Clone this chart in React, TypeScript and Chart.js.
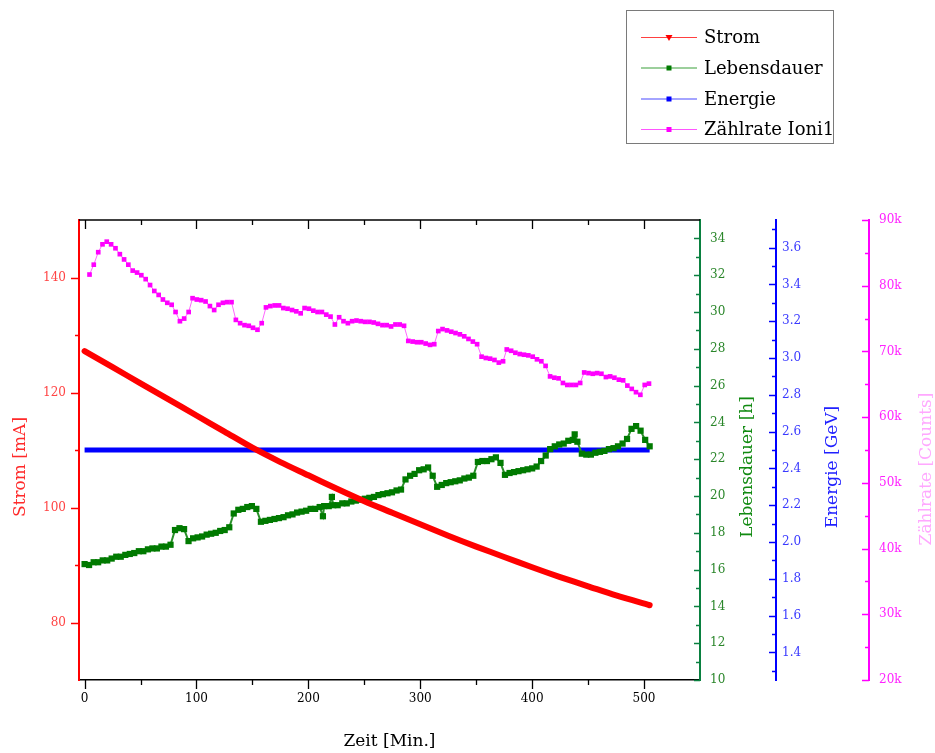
import React, { useEffect, useRef } from 'react';
import { Chart, registerables } from 'chart.js';

Chart.register(...registerables);

const FONT = "'DejaVu Serif', 'Liberation Serif', serif";

// ---- data ----
const stromTime = [0, 25, 50, 75, 100, 125, 150, 175, 200, 225, 250, 275, 300, 325, 350, 375, 400, 425, 450, 475, 505];
const stromValue = [127.2, 124.4, 121.6, 118.8, 116.0, 113.2, 110.4, 107.9, 105.6, 103.3, 101.1, 99.1, 97.1, 95.1, 93.2, 91.4, 89.6, 87.9, 86.3, 84.7, 83.0];

const lebTime = [
  0, 4, 8.1, 12.1, 16.2, 20.2, 24.2, 28.3, 32.3, 36.4, 40.4, 44.4, 48.5, 52.5, 56.6, 60.6, 64.6, 68.7, 72.7, 76.8,
  80.8, 84.8, 88.9, 92.9, 97.0, 101.0, 105.0, 109.1, 113.1, 117.2, 121.2, 125.2, 129.3, 133.3, 137.4, 141.4, 145.4, 149.5, 153.5, 157.6,
  161.6, 165.6, 169.7, 173.7, 177.8, 181.8, 185.8, 189.9, 193.9, 198.0, 202.0, 206.0, 210.1, 213.0, 214.1, 218.2, 221.0, 222.2, 226.2, 230.3,
  234.3, 238.4, 242.4, 246.4, 250.5, 254.5, 258.6, 262.6, 266.6, 270.7, 274.7, 278.8, 282.8, 286.8, 290.9, 294.9, 299.0, 303.0, 307.0, 311.1,
  315.1, 319.2, 323.2, 327.2, 331.3, 335.3, 339.4, 343.4, 347.4, 351.5, 355.5, 359.6, 363.6, 367.6, 371.7, 375.7, 379.8, 383.8, 387.8, 391.9,
  395.9, 400.0, 404.0, 408.0, 412.1, 416.1, 420.2, 424.2, 428.2, 432.3, 436.3, 438.0, 440.4, 444.4, 448.4, 452.5, 456.5, 460.6, 464.6, 468.6,
  472.7, 476.7, 480.8, 484.8, 488.8, 492.9, 496.9, 501.0, 505.0,
];
const lebValue = [
  16.3, 16.25, 16.4, 16.4, 16.5, 16.5, 16.6, 16.7, 16.7, 16.8, 16.85, 16.9, 17.0, 17.0, 17.1, 17.15, 17.15, 17.25, 17.25, 17.35,
  18.15, 18.25, 18.2, 17.55, 17.7, 17.75, 17.8, 17.9, 17.95, 18.0, 18.1, 18.15, 18.3, 19.05, 19.25, 19.3, 19.4, 19.45, 19.3, 18.6,
  18.65, 18.7, 18.75, 18.8, 18.85, 18.95, 19.0, 19.1, 19.15, 19.2, 19.3, 19.3, 19.4, 18.9, 19.45, 19.45, 19.95, 19.5, 19.5, 19.6,
  19.6, 19.7, 19.75, 19.8, 19.85, 19.9, 19.95, 20.05, 20.1, 20.15, 20.2, 20.3, 20.35, 20.9, 21.1, 21.2, 21.4, 21.45, 21.55, 21.1,
  20.5, 20.6, 20.7, 20.75, 20.8, 20.85, 20.95, 21.0, 21.1, 21.85, 21.9, 21.9, 22.0, 22.1, 21.8, 21.15, 21.25, 21.3, 21.35, 21.4,
  21.45, 21.5, 21.6, 21.9, 22.2, 22.55, 22.7, 22.8, 22.85, 23.0, 23.05, 23.35, 22.95, 22.3, 22.25, 22.25, 22.35, 22.4, 22.45, 22.55,
  22.6, 22.7, 22.85, 23.1, 23.65, 23.8, 23.55, 23.05, 22.7,
];

const energieTime = [0, 100, 200, 300, 400, 505];
const energieValue = [2.5, 2.5, 2.5, 2.5, 2.5, 2.5];

const zaehlTime = [
  4.4, 8.2, 12.2, 16.0, 19.8, 23.7, 27.6, 31.5, 35.3, 39.1, 43.0, 46.9, 50.7, 54.6, 58.5, 62.3, 66.2, 70.0, 73.9, 77.8,
  81.3, 85.2, 89.0, 93.0, 96.5, 100.3, 104.2, 108.1, 112.0, 115.8, 119.7, 123.6, 127.4, 131.3, 135.2, 139.0, 142.9, 146.7, 150.5, 154.5,
  158.3, 162.1, 166.0, 169.9, 173.8, 177.6, 181.4, 185.4, 189.2, 193.1, 196.6, 200.5, 204.4, 208.2, 212.1, 216.0, 219.8, 223.7, 227.5, 231.4,
  235.3, 239.1, 243.0, 246.8, 250.7, 254.6, 258.4, 262.2, 266.2, 270.0, 273.9, 277.8, 281.6, 285.5, 289.3, 293.2, 297.1, 300.9, 304.8, 308.7,
  312.5, 316.1, 319.9, 323.9, 327.7, 331.5, 335.4, 339.3, 343.1, 347.0, 350.8, 354.8, 358.6, 362.4, 366.3, 370.2, 374.0, 377.3, 381.2, 385.0,
  388.9, 392.7, 396.6, 400.5, 404.3, 408.2, 412.0, 416.0, 419.8, 423.6, 427.5, 431.4, 435.2, 439.1, 442.9, 446.5, 450.4, 454.2, 458.1, 461.9,
  465.9, 469.7, 473.5, 477.5, 481.3, 485.1, 489.0, 492.8, 496.7, 500.6, 504.4,
];
const zaehlValue = [
  81700, 83200, 85100, 86300, 86700, 86300, 85700, 84800, 84000, 83200, 82300, 82000, 81600, 81000, 80100, 79200, 78600, 77900, 77400, 77100,
  76000, 74600, 75000, 76000, 78100, 77900, 77800, 77600, 76900, 76300, 77100, 77400, 77500, 77500, 74800, 74300, 74000, 73900, 73600, 73300,
  74300, 76700, 76900, 77000, 77000, 76600, 76500, 76300, 76100, 75800, 76600, 76500, 76200, 76000, 76000, 75600, 75300, 74100, 75200, 74600,
  74300, 74600, 74700, 74600, 74500, 74500, 74400, 74200, 74000, 74000, 73800, 74100, 74100, 73900, 71600, 71500, 71400, 71400, 71200, 71000,
  71100, 73100, 73400, 73200, 73000, 72800, 72600, 72300, 71900, 71500, 71100, 69200, 69000, 68900, 68700, 68300, 68500, 70300, 70100, 69800,
  69600, 69500, 69400, 69200, 68800, 68500, 67800, 66200, 66000, 65900, 65200, 64900, 64900, 64900, 65200, 66800, 66700, 66600, 66700, 66600,
  66100, 66200, 66000, 65700, 65600, 64800, 64300, 63800, 63400, 64900, 65100,
];

const xTicks = [0, 100, 200, 300, 400, 500];
const xMinor = [50, 150, 250, 350, 450];
const stromTicks = [80, 100, 120, 140];
const stromMinor = [90, 110, 130];
const lebTicks = [10, 12, 14, 16, 18, 20, 22, 24, 26, 28, 30, 32, 34];
const lebMinor = [11, 13, 15, 17, 19, 21, 23, 25, 27, 29, 31, 33];
const energieTicks = [1.4, 1.6, 1.8, 2.0, 2.2, 2.4, 2.6, 2.8, 3.0, 3.2, 3.4, 3.6];
const energieMinor = [1.3, 1.5, 1.7, 1.9, 2.1, 2.3, 2.5, 2.7, 2.9, 3.1, 3.3, 3.5, 3.7];
const zaehlTicks = [20000, 30000, 40000, 50000, 60000, 70000, 80000, 90000];
const zaehlMinor = [25000, 35000, 45000, 55000, 65000, 75000, 85000];

const legendLabels = ['Strom', 'Lebensdauer', 'Energie', 'Zählrate Ioni1'];

const RED = '#ff0000';
const GREEN = '#007a00';
const GREEN_AXIS = '#0a8040';
const BLUE = '#0000ff';
const MAGENTA = '#ff00ff';

const pts = (t: number[], v: number[]) => t.map((x, i) => ({ x, y: v[i] }));

function setTicks(values: number[]) {
  return (s: any) => {
    s.ticks = values.map((v) => ({ value: v }));
  };
}

function line(ctx: CanvasRenderingContext2D, x1: number, y1: number, x2: number, y2: number) {
  ctx.beginPath();
  ctx.moveTo(x1, y1);
  ctx.lineTo(x2, y2);
  ctx.stroke();
}

function vText(ctx: CanvasRenderingContext2D, text: string, x: number, y: number, color: string, size: number) {
  ctx.save();
  ctx.translate(x, y);
  ctx.rotate(-Math.PI / 2);
  ctx.font = `${size}px ${FONT}`;
  ctx.textAlign = 'center';
  ctx.textBaseline = 'middle';
  ctx.fillStyle = color;
  ctx.fillText(text, 0, 0);
  ctx.restore();
}

const decorPlugin = {
  id: 'decor',
  afterDraw(chart: any) {
    const ctx: CanvasRenderingContext2D = chart.ctx;
    const { left, right, top, bottom } = chart.chartArea;
    const sx = chart.scales.x;
    ctx.save();
    // top frame
    ctx.strokeStyle = '#000';
    ctx.lineWidth = 1.5;
    line(ctx, left, top, right, top);
    ctx.lineWidth = 1.3;
    xTicks.forEach((v) => {
      const p = Math.round(sx.getPixelForValue(v)) + 0.5;
      line(ctx, p, bottom, p, bottom + 9);
      line(ctx, p, top, p, top + 9);
    });
    xMinor.forEach((v) => {
      const p = Math.round(sx.getPixelForValue(v)) + 0.5;
      line(ctx, p, bottom, p, bottom + 5);
      line(ctx, p, top, p, top + 5);
    });
    const yAxisTicks = (scale: any, major: number[], minor: number[], x: number, color: string, ml: number, nl: number) => {
      ctx.strokeStyle = color;
      ctx.lineWidth = 1.5;
      major.forEach((v) => {
        const p = Math.round(scale.getPixelForValue(v)) + 0.5;
        line(ctx, x, p, x - ml, p);
      });
      minor.forEach((v) => {
        const p = Math.round(scale.getPixelForValue(v)) + 0.5;
        line(ctx, x, p, x - nl, p);
      });
    };
    yAxisTicks(chart.scales.y, stromTicks, stromMinor, chart.scales.y.right, RED, 8, 4);
    yAxisTicks(chart.scales.y1, lebTicks, lebMinor, chart.scales.y1.left, GREEN_AXIS, 6, 4);
    yAxisTicks(chart.scales.y2, energieTicks, energieMinor, chart.scales.y2.left, BLUE, 7, 4);
    yAxisTicks(chart.scales.y3, zaehlTicks, zaehlMinor, chart.scales.y3.left, MAGENTA, 7, 4);

    // axis titles
    vText(ctx, 'Strom [mA]', 21, 467, '#ff2a2a', 17);
    vText(ctx, 'Lebensdauer [h]', 748, 467, '#118a11', 17);
    vText(ctx, 'Energie [GeV]', 833, 467, '#2020ff', 17);
    vText(ctx, 'Zählrate [Counts]', 927, 469, '#ffa8ff', 17);
    ctx.font = `17px ${FONT}`;
    ctx.fillStyle = '#000';
    ctx.textAlign = 'center';
    ctx.textBaseline = 'middle';
    ctx.fillText('Zeit [Min.]', (left + right) / 2, 742);

    // legend
    ctx.strokeStyle = '#7a7a7a';
    ctx.lineWidth = 1;
    ctx.strokeRect(626.5, 10.5, 207, 133);
    const rows = [37.5, 68, 99, 129.5];
    const lineCols = ['#ff4040', '#3aa03a', '#4a4aff', '#ff55ff'];
    const markCols = [RED, GREEN, BLUE, MAGENTA];
    ctx.font = `18px ${FONT}`;
    ctx.textAlign = 'left';
    ctx.textBaseline = 'middle';
    rows.forEach((y, i) => {
      ctx.strokeStyle = lineCols[i];
      ctx.lineWidth = 1.2;
      line(ctx, 641, y, 697, y);
      ctx.fillStyle = markCols[i];
      if (i === 0) {
        ctx.beginPath();
        ctx.moveTo(665.5, y - 2.5);
        ctx.lineTo(672.5, y - 2.5);
        ctx.lineTo(669, y + 3.5);
        ctx.closePath();
        ctx.fill();
      } else {
        ctx.fillRect(666.5, y - 2.5, 5, 5);
      }
      ctx.fillStyle = '#000';
      ctx.fillText(legendLabels[i], 704, y + 1);
    });
    ctx.restore();
  },
};

function rightAxis(min: number, max: number, ticks: number[], color: string, labelColor: string, width: number, padding: number, cb: (v: number) => string) {
  return {
    type: 'linear',
    position: 'right',
    min,
    max,
    afterBuildTicks: setTicks(ticks),
    afterFit: (s: any) => {
      s.width = width;
    },
    grid: { display: true, drawOnChartArea: false, drawTicks: false },
    border: { display: true, color, width: 2 },
    ticks: {
      color: labelColor,
      font: { family: FONT, size: 12 },
      padding,
      autoSkip: false,
      maxRotation: 0,
      callback: (v: any) => cb(Number(v)),
    },
  };
}

export default function App() {
  const ref = useRef<HTMLCanvasElement | null>(null);
  useEffect(() => {
    if (!ref.current) return;
    const chart = new Chart(ref.current, {
      type: 'line',
      data: {
        datasets: [
          {
            label: 'Energie',
            data: pts(energieTime, energieValue),
            yAxisID: 'y2',
            borderColor: BLUE,
            borderWidth: 5,
            pointRadius: 0,
            order: 4,
          },
          {
            label: 'Zählrate Ioni1',
            data: pts(zaehlTime, zaehlValue),
            yAxisID: 'y3',
            borderColor: '#ff66ff',
            borderWidth: 1,
            pointStyle: 'rect',
            pointRadius: 3.3,
            pointBackgroundColor: MAGENTA,
            pointBorderWidth: 0,
            order: 3,
          },
          {
            label: 'Lebensdauer',
            data: pts(lebTime, lebValue),
            yAxisID: 'y1',
            borderColor: '#2a902a',
            borderWidth: 2,
            pointStyle: 'rect',
            pointRadius: 4.4,
            pointBackgroundColor: GREEN,
            pointBorderWidth: 0,
            order: 2,
          },
          {
            label: 'Strom',
            data: pts(stromTime, stromValue),
            yAxisID: 'y',
            borderColor: RED,
            borderWidth: 6,
            borderCapStyle: 'round',
            pointRadius: 0,
            tension: 0.3,
            order: 1,
          },
        ] as any,
      },
      options: {
        responsive: false,
        animation: false,
        devicePixelRatio: 1,
        events: [],
        layout: { padding: { top: 220, left: 0, right: 0, bottom: 0 } },
        plugins: { legend: { display: false }, tooltip: { enabled: false } },
        scales: {
          x: {
            type: 'linear',
            position: 'bottom',
            min: -5,
            max: 550,
            afterBuildTicks: setTicks(xTicks),
            afterFit: (s: any) => {
              s.height = 73;
            },
            grid: { display: true, drawOnChartArea: false, drawTicks: false },
            border: { display: true, color: '#000', width: 1.5 },
            ticks: { color: '#000', font: { family: FONT, size: 12 }, padding: 12, autoSkip: false, maxRotation: 0 },
          },
          y: {
            type: 'linear',
            position: 'left',
            min: 70,
            max: 150,
            afterBuildTicks: setTicks(stromTicks),
            afterFit: (s: any) => {
              s.width = 79;
            },
            grid: { display: true, drawOnChartArea: false, drawTicks: false },
            border: { display: true, color: RED, width: 2 },
            ticks: { color: '#ff4444', font: { family: FONT, size: 12 }, padding: 13, autoSkip: false },
          },
          y1: rightAxis(10, 35, lebTicks, GREEN_AXIS, '#2a862a', 76, 10, (v) => String(v)),
          y2: rightAxis(1.25, 3.75, energieTicks, BLUE, '#3a3aff', 93, 6, (v) => v.toFixed(1)),
          y3: rightAxis(20000, 90000, zaehlTicks, MAGENTA, '#ff22ff', 66, 10, (v) => `${Math.round(v / 1000)}k`),
        } as any,
      },
      plugins: [decorPlugin],
    });
    return () => chart.destroy();
  }, []);
  return (
    <div style={{ position: 'absolute', left: 0, top: 0, width: 935, height: 753, background: '#fff' }}>
      <canvas ref={ref} width={935} height={753} style={{ display: 'block', width: 935, height: 753 }} />
    </div>
  );
}
